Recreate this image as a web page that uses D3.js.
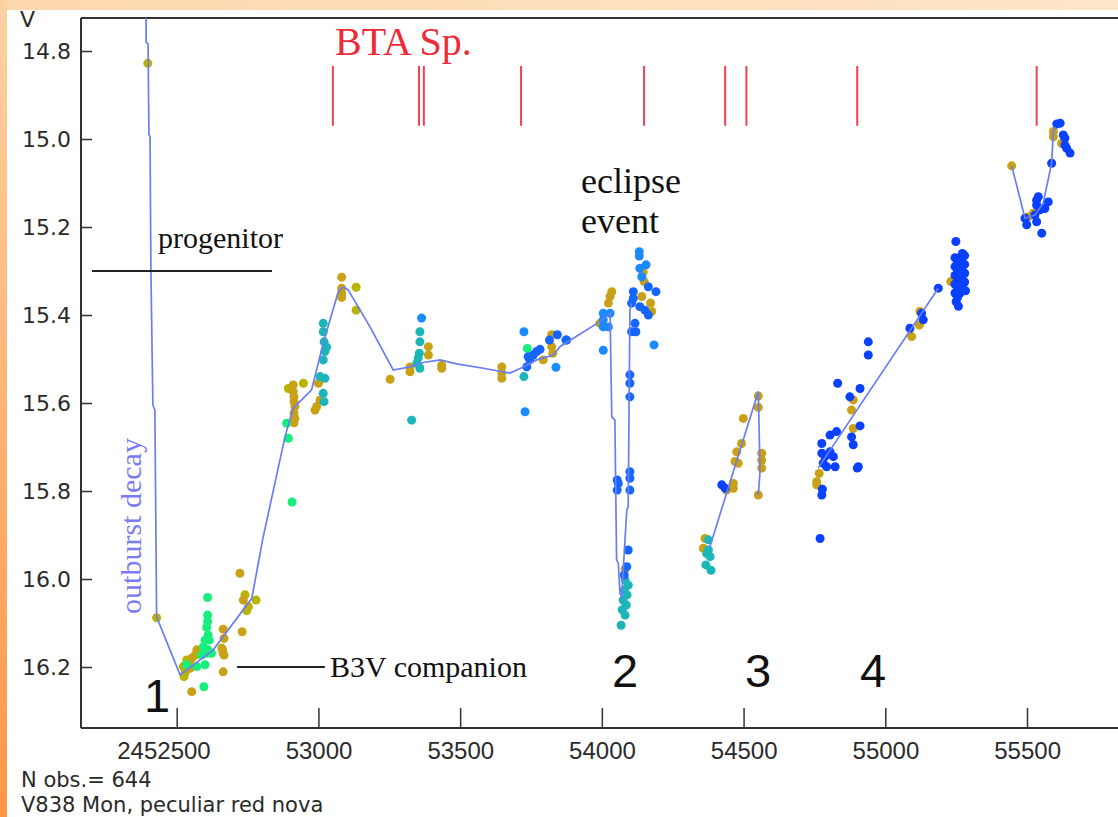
<!DOCTYPE html>
<html>
<head>
<meta charset="utf-8">
<script src="https://cdn.jsdelivr.net/npm/d3@7"></script>
<style>
  body { margin: 0; background: #fff; }
  svg { display: block; }
</style>
</head>
<body>
<svg id="chart"></svg>
<script>
// V838 Mon light curve, JD - 2400000 vs V magnitude

const xTicks = [52500, 53000, 53500, 54000, 54500, 55000, 55500];
const yTicks = [14.8, 15.0, 15.2, 15.4, 15.6, 15.8, 16.0, 16.2];

// BTA spectra epochs
const btaEpochs = [53051, 53355, 53372, 53715, 54149, 54435, 54510, 54901, 55534];

// observations by colour group [jd, mag]
const olivePts = [
  [52398, 14.828], [52429, 16.088], [52526, 16.222], [52523, 16.199], [52535, 16.184],
  [52565, 16.173], [52741, 16.036], [52753, 16.063], [52747, 16.072], [52780, 16.048],
  [52664, 16.169], [52659, 16.157], [53133, 15.337], [53133, 15.389], [52894, 15.567],
  [52947, 15.555], [52530, 16.212], [52545, 16.190]
];
const goldPts = [
  [52723, 15.987], [52731, 16.120], [52664, 16.114], [52667, 16.135], [52662, 16.161],
  [52667, 16.173], [52664, 16.211], [52553, 16.256], [52571, 16.161], [52553, 16.180],
  [52547, 16.203], [52735, 16.048],
  [53082, 15.314], [53082, 15.339], [53082, 15.351], [53082, 15.360],
  [52911, 15.559], [52911, 15.574], [52914, 15.586], [52914, 15.597], [52917, 15.608],
  [52914, 15.623], [52917, 15.635], [52914, 15.645],
  [53000, 15.555], [53006, 15.593], [52994, 15.608], [52988, 15.616],
  [53388, 15.472], [53388, 15.491], [53323, 15.518], [53323, 15.529], [53435, 15.514],
  [53435, 15.521], [53253, 15.546],
  [53647, 15.518], [53647, 15.532], [53647, 15.544], [53793, 15.502], [53823, 15.445],
  [53823, 15.472], [53827, 15.487],
  [54035, 15.347], [54029, 15.358], [54023, 15.373], [53993, 15.419],
  [54146, 15.302], [54149, 15.324], [54141, 15.358], [54172, 15.373], [54176, 15.392],
  [54082, 15.978],
  [54364, 15.908], [54358, 15.930],
  [54464, 15.783], [54464, 15.794], [54440, 15.798], [54470, 15.733], [54476, 15.711],
  [54493, 15.692], [54481, 15.737], [54499, 15.635], [54552, 15.584], [54552, 15.610],
  [54564, 15.714], [54564, 15.730], [54564, 15.748], [54552, 15.809],
  [54887, 15.593], [54881, 15.616], [54887, 15.658], [54767, 15.760], [54758, 15.786],
  [54758, 15.779],
  [55093, 15.449], [55122, 15.392], [55120, 15.423], [55231, 15.324],
  [55446, 15.061], [55504, 15.177], [55522, 15.169], [55593, 14.983], [55593, 14.995],
  [55622, 15.010]
];
const greenPts = [
  [52609, 16.042], [52609, 16.082], [52609, 16.097], [52606, 16.110], [52611, 16.127],
  [52615, 16.139], [52600, 16.139], [52594, 16.154], [52611, 16.161], [52606, 16.169],
  [52588, 16.173], [52623, 16.169], [52600, 16.195], [52571, 16.199], [52535, 16.195],
  [52596, 16.245],
  [52888, 15.646], [52894, 15.680], [52907, 15.825], [53737, 15.476]
];
const tealPts = [
  [53017, 15.419], [53017, 15.438], [53020, 15.461], [53029, 15.473], [53023, 15.483],
  [53017, 15.502], [53023, 15.544], [53017, 15.578], [53020, 15.597], [53006, 15.540],
  [53329, 15.639], [53358, 15.438], [53358, 15.461], [53356, 15.487], [53352, 15.498],
  [53347, 15.510], [53358, 15.521], [53725, 15.540],
  [54082, 16.002], [54093, 16.014], [54079, 16.025], [54089, 16.036], [54075, 16.048],
  [54086, 16.059], [54072, 16.070], [54082, 16.082], [54068, 16.105],
  [54376, 15.911], [54376, 15.934], [54382, 15.949], [54370, 15.942], [54367, 15.968],
  [54385, 15.980]
];
const skyPts = [
  [53364, 15.407], [53725, 15.438], [53729, 15.620], [53838, 15.519],
  [54005, 15.396], [54029, 15.396], [54005, 15.411], [54005, 15.427], [54023, 15.427],
  [54005, 15.480],
  [54132, 15.256], [54132, 15.266], [54134, 15.294], [54156, 15.286], [54141, 15.313],
  [54184, 15.468]
];
const midBluePts = [
  [53740, 15.495], [53746, 15.502], [53735, 15.518], [53770, 15.483], [53782, 15.478],
  [53758, 15.491], [53843, 15.445], [53815, 15.457], [53873, 15.457], [53876, 15.457],
  [54054, 15.775], [54058, 15.783], [54054, 15.798], [54088, 15.972], [54079, 15.991],
  [54099, 15.536], [54099, 15.555], [54099, 15.586], [54099, 15.756], [54099, 15.771],
  [54099, 15.798], [54093, 15.934],
  [54164, 15.336], [54191, 15.347], [54111, 15.347], [54111, 15.362], [54134, 15.381],
  [54152, 15.389], [54164, 15.400], [54105, 15.373], [54117, 15.419], [54105, 15.438],
  [54120, 15.438]
];
const bluePts = [
  [54423, 15.786], [54435, 15.794],
  [54776, 15.692], [54805, 15.673], [54828, 15.665], [54776, 15.714], [54787, 15.722],
  [54805, 15.711], [54817, 15.722], [54781, 15.737], [54823, 15.745], [54793, 15.745],
  [54778, 15.796], [54770, 15.908], [54832, 15.555], [54911, 15.567], [54875, 15.586],
  [54940, 15.461], [54940, 15.491], [54911, 15.652], [54881, 15.677], [54887, 15.695],
  [54905, 15.745], [54776, 15.809], [54901, 15.748],
  [55087, 15.430], [55128, 15.396], [55134, 15.411], [55187, 15.339], [55249, 15.233],
  [55246, 15.27], [55246, 15.29], [55246, 15.31], [55246, 15.33], [55246, 15.35],
  [55250, 15.37], [55255, 15.28], [55255, 15.30], [55255, 15.32], [55255, 15.34],
  [55255, 15.36], [55258, 15.38], [55264, 15.27], [55264, 15.29], [55264, 15.31],
  [55264, 15.33], [55264, 15.35], [55272, 15.26], [55272, 15.28], [55272, 15.30],
  [55272, 15.32], [55272, 15.34], [55280, 15.265], [55280, 15.285], [55280, 15.305],
  [55280, 15.325], [55283, 15.345],
  [55493, 15.180], [55499, 15.195], [55534, 15.139], [55540, 15.131], [55534, 15.150],
  [55546, 15.161], [55528, 15.173], [55552, 15.214], [55575, 15.143], [55563, 15.158],
  [55534, 15.188], [55587, 15.055], [55605, 14.966], [55617, 14.964], [55628, 14.991],
  [55634, 14.998], [55634, 15.014], [55640, 15.021], [55652, 15.032]
];

// mean light curve, one array per season run
const meanRun1 = [
  [52392, 14.725], [52392, 14.780], [52399, 14.784], [52402, 14.989], [52406, 14.995],
  [52409, 15.298], [52416, 15.605], [52423, 15.616], [52429, 16.075], [52429, 16.086],
  [52512, 16.218], [52629, 16.161], [52765, 16.044], [52803, 15.911], [52882, 15.677],
  [52911, 15.612], [52976, 15.570], [53017, 15.464], [53070, 15.347], [53087, 15.336],
  [53105, 15.343], [53182, 15.427], [53264, 15.525], [53323, 15.518], [53370, 15.508],
  [53429, 15.502], [53488, 15.511], [53582, 15.521], [53676, 15.532], [53723, 15.518],
  [53770, 15.502], [53829, 15.491], [53852, 15.472], [53993, 15.415], [54029, 15.396],
  [54035, 15.631], [54046, 15.639], [54052, 15.957], [54058, 15.964], [54064, 16.033],
  [54070, 16.040], [54088, 15.843], [54093, 15.836], [54099, 15.389], [54105, 15.373]
];
const meanRun2 = [[54381, 15.927], [54552, 15.574], [54558, 15.756], [54552, 15.809]];
const meanRun3 = [[54763, 15.748], [55187, 15.339]];
const meanRun4 = [
  [55446, 15.061], [55493, 15.180], [55528, 15.173], [55557, 15.146], [55587, 15.055],
  [55593, 14.983], [55599, 14.972]
];

const W = 1118, H = 817;
const frame = { left: 81, top: 18, right: 1118, bottom: 728 };

const svg = d3.select('#chart').attr('width', W).attr('height', H);

const xScale = d3.scaleLinear().domain([52500, 55500]).range([176.7, 1027]);
const yScale = d3.scaleLinear().domain([14.8, 16.2]).range([51, 667]);

// background strips
const defs = svg.append('defs');
const gLeft = defs.append('linearGradient').attr('id', 'leftStrip')
  .attr('x1', 0).attr('y1', 0).attr('x2', 0).attr('y2', 1);
gLeft.append('stop').attr('offset', '0%').attr('stop-color', '#fdd2a4');
gLeft.append('stop').attr('offset', '100%').attr('stop-color', '#fe9646');
const gTop = defs.append('linearGradient').attr('id', 'topStrip')
  .attr('x1', 0).attr('y1', 0).attr('x2', 1).attr('y2', 0);
gTop.append('stop').attr('offset', '0%').attr('stop-color', '#fdd7ad');
gTop.append('stop').attr('offset', '100%').attr('stop-color', '#fee6c8');

svg.append('rect').attr('width', W).attr('height', H).attr('fill', '#fff');

const clip = defs.append('clipPath').attr('id', 'plotClip');
clip.append('rect').attr('x', frame.left).attr('y', frame.top)
  .attr('width', frame.right - frame.left).attr('height', frame.bottom - frame.top);

// Y axis, ticks pointing inward
const yAxis = svg.append('g')
  .attr('transform', `translate(${frame.left},0)`)
  .call(d3.axisLeft(yScale).tickValues(yTicks).tickSizeInner(-11).tickSizeOuter(0)
    .tickPadding(10).tickFormat(d3.format('.1f')));
yAxis.select('.domain').remove();
yAxis.selectAll('.tick line').attr('stroke', '#333').attr('stroke-width', 1.5);
yAxis.selectAll('text').attr('fill', '#2a2a2a')
  .style('font-family', 'DejaVu Sans, sans-serif').style('font-size', '22px');

// X axis, ticks pointing inward
const xAxis = svg.append('g')
  .attr('transform', `translate(0,${frame.bottom})`)
  .call(d3.axisBottom(xScale).tickValues(xTicks).tickSizeInner(-20).tickSizeOuter(0)
    .tickPadding(14).tickFormat(d => d === 52500 ? '2452500' : String(d)));
xAxis.select('.domain').remove();
xAxis.selectAll('.tick line').attr('stroke', '#333').attr('stroke-width', 1.5);
xAxis.selectAll('text').attr('fill', '#2a2a2a')
  .attr('text-anchor', 'end').attr('x', 33.5)
  .style('font-family', 'Liberation Sans, Arial, sans-serif').style('font-size', '24px');

// frame lines
svg.append('line').attr('x1', frame.left).attr('x2', frame.right)
  .attr('y1', frame.top).attr('y2', frame.top).attr('stroke', '#333').attr('stroke-width', 2);
svg.append('line').attr('x1', frame.left).attr('x2', frame.right)
  .attr('y1', frame.bottom).attr('y2', frame.bottom).attr('stroke', '#333').attr('stroke-width', 2);
svg.append('line').attr('x1', frame.left).attr('x2', frame.left)
  .attr('y1', frame.top).attr('y2', frame.bottom).attr('stroke', '#333').attr('stroke-width', 2);

const plot = svg.append('g').attr('clip-path', 'url(#plotClip)');

// BTA spectra markers
plot.append('g').selectAll('line')
  .data(btaEpochs)
  .enter()
  .append('line')
  .attr('x1', d => xScale(d)).attr('x2', d => xScale(d))
  .attr('y1', yScale(14.834)).attr('y2', yScale(14.970))
  .attr('stroke', '#f2404e').attr('stroke-width', 2);

// observations
const groups = [
  { pts: olivePts, color: '#b8b400' },
  { pts: goldPts, color: '#c9a116' },
  { pts: greenPts, color: '#16ef7c' },
  { pts: tealPts, color: '#1cb6b8' },
  { pts: skyPts, color: '#1a8bff' },
  { pts: midBluePts, color: '#1566ff' },
  { pts: bluePts, color: '#0a40ff' }
];
groups.forEach(g => {
  plot.append('g').selectAll('circle')
    .data(g.pts)
    .enter()
    .append('circle')
    .attr('cx', d => xScale(d[0]))
    .attr('cy', d => yScale(d[1]))
    .attr('r', 4.5)
    .attr('fill', g.color);
});

// mean curve
const line = d3.line().x(d => xScale(d[0])).y(d => yScale(d[1]));
[meanRun1, meanRun2, meanRun3, meanRun4].forEach(run => {
  plot.append('path')
    .datum(run)
    .attr('d', line)
    .attr('fill', 'none')
    .attr('stroke', '#6a7df5')
    .attr('stroke-width', 1.7);
});

// annotations
const serif = 'Liberation Serif, Times New Roman, serif';

svg.append('line')
  .attr('x1', xScale(52201)).attr('x2', xScale(52836))
  .attr('y1', yScale(15.3)).attr('y2', yScale(15.3))
  .attr('stroke', '#222').attr('stroke-width', 2);
svg.append('text').attr('x', 158).attr('y', 248).text('progenitor')
  .style('font-family', serif).style('font-size', '30px').attr('fill', '#111');

svg.append('line')
  .attr('x1', xScale(52713)).attr('x2', xScale(53023))
  .attr('y1', yScale(16.2)).attr('y2', yScale(16.2))
  .attr('stroke', '#222').attr('stroke-width', 2);
svg.append('text').attr('x', 330).attr('y', 677).text('B3V companion')
  .style('font-family', serif).style('font-size', '30px').attr('fill', '#111');

svg.append('text').attr('x', 581).attr('y', 193).text('eclipse')
  .style('font-family', serif).style('font-size', '36px').attr('fill', '#111');
svg.append('text').attr('x', 581).attr('y', 233).text('event')
  .style('font-family', serif).style('font-size', '36px').attr('fill', '#111');

svg.append('text').attr('x', 335).attr('y', 55).text('BTA Sp.')
  .style('font-family', serif).style('font-size', '40px').attr('fill', '#ee2a36');

svg.append('text')
  .attr('transform', 'translate(141,526) rotate(-90)')
  .attr('text-anchor', 'middle')
  .text('outburst decay')
  .style('font-family', serif).style('font-size', '30px').attr('fill', '#7c7cf2');

const numLabels = [
  { t: '1', x: 157, y: 712 },
  { t: '2', x: 625, y: 687 },
  { t: '3', x: 758, y: 687 },
  { t: '4', x: 873, y: 687 }
];
svg.append('g').selectAll('text')
  .data(numLabels)
  .enter()
  .append('text')
  .attr('x', d => d.x).attr('y', d => d.y)
  .attr('text-anchor', 'middle')
  .style('font-family', 'Liberation Sans, Arial, sans-serif')
  .style('font-size', '47px')
  .attr('fill', '#111')
  .text(d => d.t);

// footer texts
const sans = 'DejaVu Sans, sans-serif';
svg.append('text').attr('x', 21).attr('y', 787).text('N obs.= 644')
  .style('font-family', sans).style('font-size', '21px').attr('fill', '#2a2a2a');
svg.append('text').attr('x', 21).attr('y', 812).text('V838 Mon, peculiar red nova')
  .style('font-family', sans).style('font-size', '21px').attr('fill', '#2a2a2a');
svg.append('text').attr('x', 20).attr('y', 27).text('V')
  .style('font-family', sans).style('font-size', '22px').attr('fill', '#2a2a2a');

// border strips drawn last
svg.append('rect').attr('x', 0).attr('y', 0).attr('width', W).attr('height', 10)
  .attr('fill', 'url(#topStrip)');
svg.append('rect').attr('x', 0).attr('y', 0).attr('width', 7).attr('height', H)
  .attr('fill', 'url(#leftStrip)');
</script>
</body>
</html>
